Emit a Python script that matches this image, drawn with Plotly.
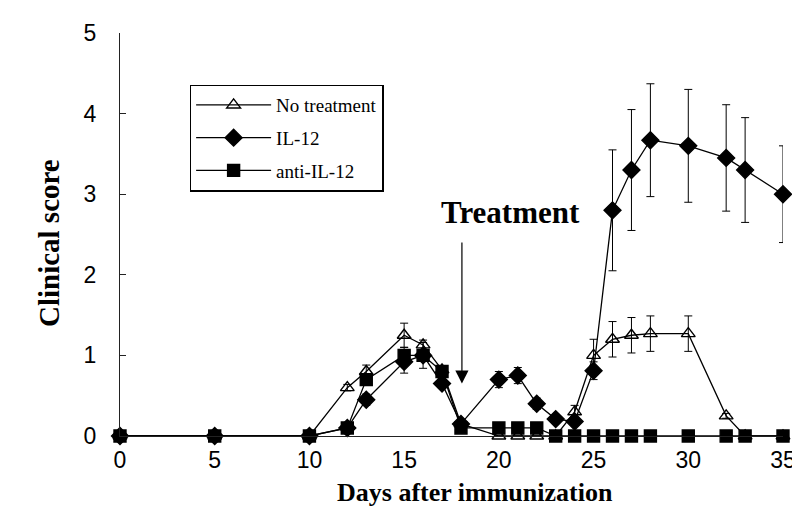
import plotly.graph_objects as go

days = [0, 5, 10, 12, 13, 15, 16, 17, 18, 20, 21, 22, 23, 24, 25, 26, 27, 28, 30, 32, 33, 35]

no_treatment = [0, 0, 0, 0.6, 0.8, 1.25, 1.13, 0.82, 0.15, 0, 0, 0, 0, 0.3, 1.0, 1.2, 1.25, 1.27, 1.27, 0.25, 0, 0]
no_treatment_err = [0, 0, 0, 0.04, 0.08, 0.15, 0.06, 0, 0.03, 0, 0, 0, 0, 0.08, 0.2, 0.22, 0.22, 0.22, 0.22, 0.03, 0, 0]

il12 = [0, 0, 0, 0.1, 0.45, 0.92, 1.0, 0.65, 0.15, 0.7, 0.75, 0.4, 0.21, 0.18, 0.81, 2.8, 3.3, 3.67, 3.6, 3.45, 3.3, 3.0]
il12_err = [0, 0, 0, 0, 0.07, 0.14, 0, 0, 0, 0.1, 0.1, 0.07, 0, 0, 0.11, 0.75, 0.75, 0.7, 0.7, 0.66, 0.65, 0.6]

anti_il12 = [0, 0, 0, 0.1, 0.7, 1.0, 1.0, 0.8, 0.1, 0.1, 0.1, 0.1, 0, 0, 0, 0, 0, 0, 0, 0, 0, 0]
anti_il12_err = [0, 0, 0, 0, 0.05, 0.1, 0.16, 0, 0, 0, 0, 0, 0, 0, 0, 0, 0, 0, 0, 0, 0, 0]

x_ticks = [0, 5, 10, 15, 20, 25, 30, 35]
y_ticks = [0, 1, 2, 3, 4, 5]

series = [
    ("No treatment", no_treatment, no_treatment_err, "triangle-up-open", 12, "g1"),
    ("IL-12", il12, il12_err, "diamond", 13, "g2"),
    ("anti-IL-12", anti_il12, anti_il12_err, "square", 12, "g3"),
]

fig = go.Figure()
for name, vals, errs, sym, size, grp in series:
    fig.add_trace(go.Scatter(
        x=days, y=vals, name=name, mode="lines+markers",
        legendgroup=grp,
        line=dict(color="black", width=1.3),
        marker=dict(symbol=sym, size=size, color="black",
                    line=dict(color="black", width=1.4)),
        error_y=dict(type="data", array=errs, visible=True,
                     color="black", thickness=1, width=4),
        cliponaxis=False,
    ))

fig.add_annotation(
    x=20.6, y=2.77, xref="x", yref="y", text="Treatment", showarrow=False,
    font=dict(family="Liberation Serif", size=31, color="black", weight="bold"),
)
fig.add_annotation(
    x=18.05, y=0.65, ax=18.05, ay=2.42, xref="x", yref="y", axref="x", ayref="y",
    text="", showarrow=True, arrowhead=2, arrowsize=2.2, arrowwidth=1.2,
    arrowcolor="black",
)
fig.add_annotation(
    x=0.535, y=-0.178, xref="paper", yref="paper", text="Days after immunization",
    showarrow=False, borderpad=0,
    font=dict(family="Liberation Serif", size=26, color="black", weight="bold"),
)
fig.add_annotation(
    x=-0.135, y=0.48, xref="paper", yref="paper", text="Clinical score",
    showarrow=False, textangle=-90,
    font=dict(family="Liberation Serif", size=29, color="black", weight="bold"),
)

fig.update_layout(
    width=800, height=514,
    margin=dict(l=112, r=23, t=23, b=86),
    paper_bgcolor="white", plot_bgcolor="white",
    showlegend=True,
    legend=dict(
        x=0.105, y=0.872, xanchor="left", yanchor="top",
        bordercolor="black", borderwidth=1.5, bgcolor="white",
        font=dict(family="Liberation Serif", size=19, color="black"),
        tracegroupgap=5, itemwidth=75,
    ),
    xaxis=dict(
        range=[0, 35], tickvals=x_ticks, ticktext=[str(v) for v in x_ticks],
        showgrid=False, zeroline=False, showline=True, linecolor="#222", linewidth=1.2,
        ticks="", ticklabelstandoff=3,
        tickfont=dict(family="Liberation Sans", size=23, color="black"),
    ),
    yaxis=dict(
        range=[0, 5], tickvals=y_ticks, ticktext=[str(v) for v in y_ticks],
        showgrid=False, zeroline=False, showline=True, linecolor="#222", linewidth=1.2,
        ticks="inside", ticklen=6, tickcolor="#222",
        ticklabelstandoff=18,
        tickfont=dict(family="Liberation Sans", size=23, color="black"),
    ),
)

fig.write_html("out.html")
